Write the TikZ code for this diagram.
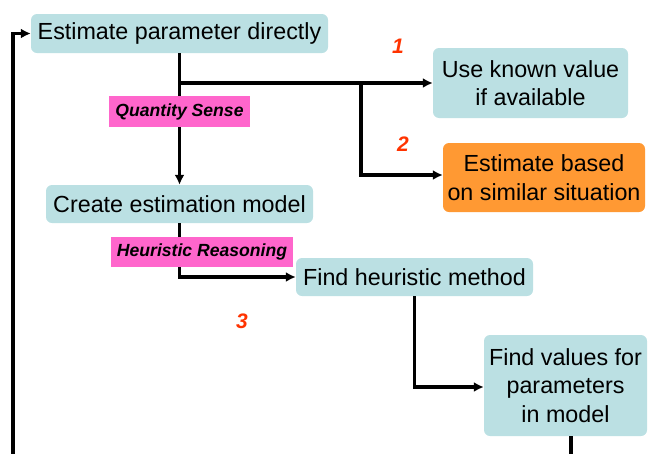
\documentclass[tikz,border=0pt]{standalone}
\usepackage{fontspec}
\setmainfont{Liberation Sans}
\usetikzlibrary{arrows.meta,calc}
\definecolor{boxteal}{HTML}{BBE0E3}
\definecolor{boxorange}{HTML}{FF9933}
\definecolor{tagpink}{HTML}{FF66CC}
\definecolor{numred}{HTML}{FF3300}
\tikzset{
  stepbox/.style={fill=boxteal, rounded corners=6pt, inner sep=0pt, align=center,
    font=\fontsize{23.3}{28.5}\selectfont},
  tag/.style={fill=tagpink, inner sep=0pt, font=\fontsize{17.6}{20}\selectfont\bfseries\itshape},
  num/.style={text=numred, font=\fontsize{21}{24}\selectfont\bfseries\itshape},
  conn/.style={line width=3.6pt, -{Latex[length=10pt,width=10pt]}},
}
\begin{document}
\begin{tikzpicture}[x=1pt,y=-1pt]
\useasboundingbox (0,0) rectangle (648,453);
\clip (0,0) rectangle (648,453);

% boxes
\node[stepbox, minimum width=297pt, minimum height=39pt] (est) at (179.5,33.5) {Estimate parameter directly};
\node[stepbox, minimum width=195pt, minimum height=70pt] (known) at (530.5,83) {Use known value\\if available};
\node[stepbox, fill=boxorange, minimum width=202pt, minimum height=69pt] (sim) at (544,177.5) {Estimate based\\on similar situation};
\node[stepbox, minimum width=267pt, minimum height=38pt] (create) at (179.5,204) {Create estimation model};
\node[stepbox, minimum width=237pt, minimum height=38pt] (heur) at (414.5,277) {Find heuristic method};
\node[stepbox, minimum width=163pt, minimum height=101pt] (vals) at (565.5,385.5) {Find values for\\parameters\\in model};

% connectors
\coordinate (b1) at (est.south |- known.west);
\coordinate (b2) at (361,83);
\coordinate (loop) at (13,465);
\draw[conn] (est) -- (create);
\draw[conn] (b1) -- (known.west);
\draw[conn] (b2) |- ([yshift=2.5pt]sim.west);
\draw[conn] (create.south) |- (heur.west);
\draw[conn] (heur.south) |- ([yshift=-1.5pt]vals.west);
\draw[conn] ([xshift=5.5pt]vals.south) |- (loop) |- (est.west);

% reasoning tags
\node[tag, minimum width=141pt, minimum height=31pt] (qs) at (179.5,111.5) {Quantity Sense};
\node[tag, minimum width=182pt, minimum height=30pt] (hr) at (202,252) {Heuristic Reasoning};

% path numbers
\node[num] (n1) at (398,46) {1};
\node[num] (n2) at (403,144) {2};
\node[num] (n3) at (242,321) {3};
\end{tikzpicture}
\end{document}
